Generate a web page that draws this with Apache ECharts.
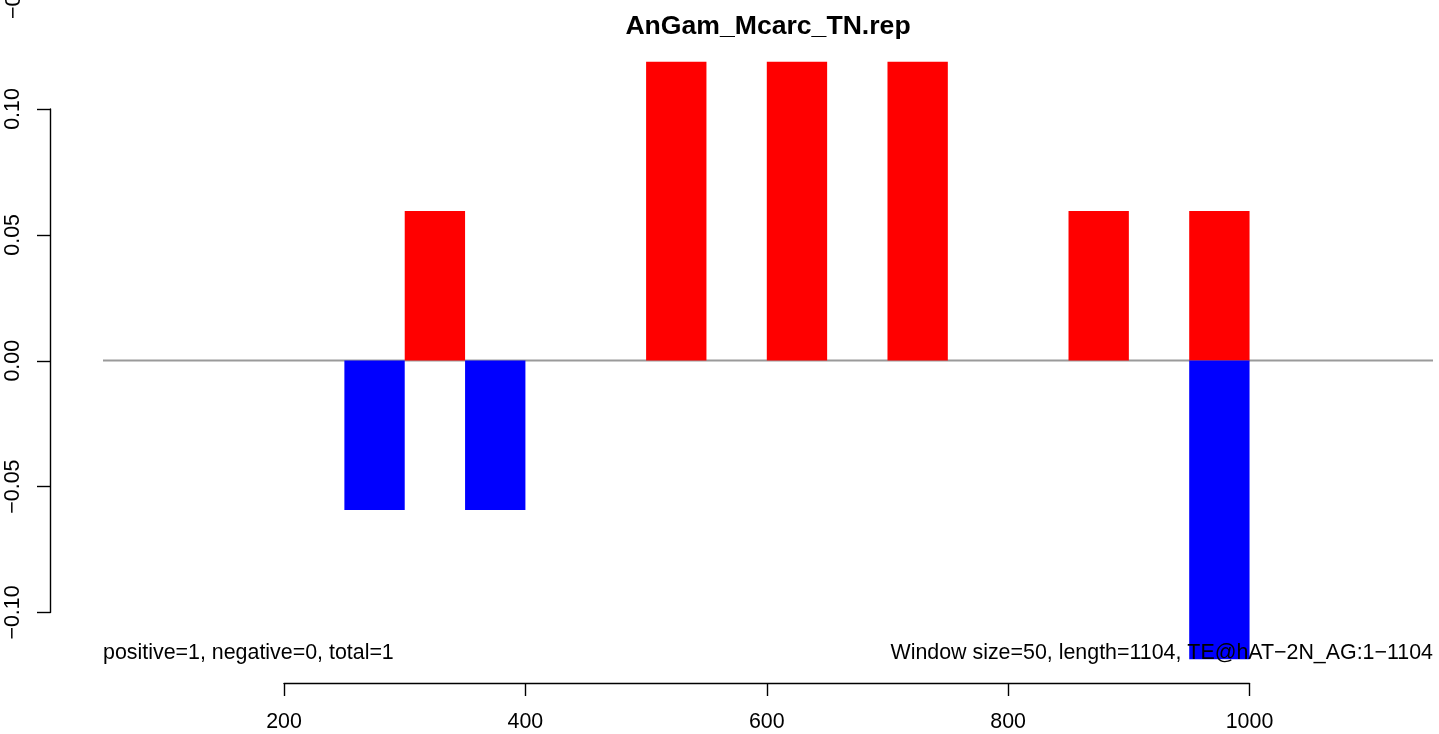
<!DOCTYPE html>
<html>
<head>
<meta charset="utf-8">
<script src="https://cdn.jsdelivr.net/npm/echarts@6/dist/echarts.min.js"></script>
<style>
html,body{margin:0;padding:0;background:#fff;}
#chart{width:1439px;height:734px;}
</style>
</head>
<body>
<div id="chart"></div>
<script>
// ---- data ----
var titleText = 'AnGam_Mcarc_TN.rep';
var windowSize = 50;
var positiveStarts = [300, 500, 600, 700, 850, 950];
var positiveValues = [0.0594, 0.1188, 0.1188, 0.1188, 0.0594, 0.0594];
var negativeStarts = [250, 350, 950];
var negativeValues = [-0.0594, -0.0594, -0.1188];
var xRange = [50, 1152];
var xTicks = [200, 400, 600, 800, 1000];
var yTicks = [-0.10, -0.05, 0.00, 0.05, 0.10];
var leftNote = 'positive=1, negative=0, total=1';
var rightNote = 'Window size=50, length=1104, TE@hAT\u22122N_AG:1\u22121104';

var FONT = '"Liberation Sans", Arial, Helvetica, sans-serif';
var FS = 21.4;

function buildBars(starts, values) {
  return starts.map(function (s, i) { return [s, s + windowSize, values[i]]; });
}

function renderBar(params, api) {
  var p0 = api.coord([api.value(0), 0]);
  var p1 = api.coord([api.value(1), api.value(2)]);
  var x = Math.min(p0[0], p1[0]);
  var y = Math.min(p0[1], p1[1]);
  return {
    type: 'rect',
    shape: { x: x, y: y, width: Math.abs(p1[0] - p0[0]), height: Math.abs(p1[1] - p0[1]) },
    style: { fill: api.visual('color') }
  };
}

var chart = echarts.init(document.getElementById('chart'), null, { renderer: 'canvas' });

var option = {
  backgroundColor: '#ffffff',
  animation: false,
  textStyle: { fontFamily: FONT },
  grid: [
    { left: 103, top: 33.55, width: 1330, height: 653.9 },   // data region
    { left: 50, top: 109, width: 1, height: 503.5 },         // y axis display
    { left: 284, top: 600, width: 965.5, height: 83 }        // x axis display
  ],
  xAxis: [
    { gridIndex: 0, type: 'value', min: xRange[0], max: xRange[1], show: false },
    { gridIndex: 1, type: 'value', show: false },
    {
      gridIndex: 2, type: 'value', min: xTicks[0], max: xTicks[xTicks.length - 1], interval: 200,
      position: 'bottom',
      axisLine: { show: true, lineStyle: { color: '#000', width: 1.4 } },
      axisTick: { show: true, inside: false, length: 13, lineStyle: { color: '#000', width: 1.4 } },
      axisLabel: { show: true, margin: 29, fontSize: FS, color: '#000', fontFamily: FONT,
        formatter: function (v) { return String(v); } },
      splitLine: { show: false }
    }
  ],
  yAxis: [
    { gridIndex: 0, type: 'value', min: -0.13, max: 0.13, show: false },
    {
      gridIndex: 1, type: 'value', min: yTicks[0], max: yTicks[yTicks.length - 1], interval: 0.05,
      position: 'left',
      axisLine: { show: true, lineStyle: { color: '#000', width: 1.4 } },
      axisTick: { show: true, inside: false, length: 13, lineStyle: { color: '#000', width: 1.4 } },
      axisLabel: { show: true, rotate: 90, margin: 26, fontSize: FS, color: '#000', fontFamily: FONT,
        formatter: function (v) { return v.toFixed(2).replace('-', '\u2212'); } },
      splitLine: { show: false }
    },
    { gridIndex: 2, type: 'value', show: false }
  ],
  series: [
    {
      type: 'line', xAxisIndex: 0, yAxisIndex: 0, z: 1,
      data: [[xRange[0], 0], [xRange[1], 0]],
      symbol: 'none', silent: true,
      lineStyle: { color: '#9a9a9a', width: 2 }
    },
    {
      type: 'custom', xAxisIndex: 0, yAxisIndex: 0, z: 2,
      itemStyle: { color: '#ff0000' },
      renderItem: renderBar,
      data: buildBars(positiveStarts, positiveValues)
    },
    {
      type: 'custom', xAxisIndex: 0, yAxisIndex: 0, z: 3,
      itemStyle: { color: '#0000ff' },
      renderItem: renderBar,
      data: buildBars(negativeStarts, negativeValues)
    }
  ],
  graphic: [
    { type: 'text', z: 100, x: 768, y: 27,
      style: { text: titleText, fontSize: 26.6, fontWeight: 'bold', fontFamily: FONT, fill: '#000',
        textAlign: 'center', textVerticalAlign: 'middle' } },
    { type: 'text', z: 100, x: 103, y: 653,
      style: { text: leftNote, fontSize: FS, fontFamily: FONT, fill: '#000',
        textAlign: 'left', textVerticalAlign: 'middle' } },
    { type: 'text', z: 100, x: 1433, y: 653,
      style: { text: rightNote, fontSize: FS, fontFamily: FONT, fill: '#000',
        textAlign: 'right', textVerticalAlign: 'middle' } },
    { type: 'text', z: 100, x: 14, y: 19, rotation: Math.PI / 2,
      style: { text: '\u22120.10', fontSize: FS, fontFamily: FONT, fill: '#000',
        textAlign: 'left', textVerticalAlign: 'middle' } }
  ]
};
chart.setOption(option);
</script>
</body>
</html>
